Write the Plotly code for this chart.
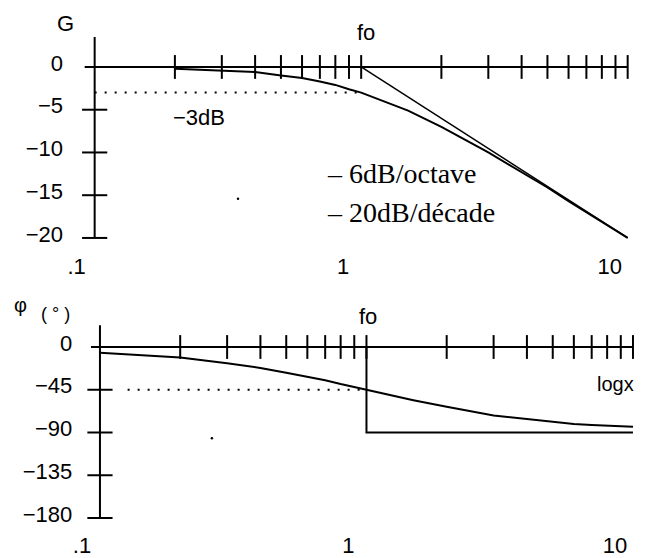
import plotly.graph_objects as go

# ---------------- data ----------------
freq_ticks = [0.2, 0.3, 0.4, 0.5, 0.6, 0.7, 0.8, 0.9, 1, 2, 3, 4, 5, 6, 7, 8, 9, 10]
x_label_vals = [0.1, 1, 10]
x_label_text = [".1", "1", "10"]

gain_ticks = [0, -5, -10, -15, -20]
gain_tick_text = ["0", "−5", "−10", "−15", "−20"]
phase_ticks = [0, -45, -90, -135, -180]
phase_tick_text = ["0", "−45", "−90", "−135", "−180"]

fo = 1.0
f_gain = [0.2, 0.3, 0.4, 0.5, 0.6, 0.7, 0.8, 0.9, 1, 1.5, 2, 3, 4, 5, 6, 7, 8, 9, 10]
gain_db = [-0.2, -0.4, -0.6, -1.0, -1.3, -1.7, -2.1, -2.6, -3.0, -5.1, -7.0, -10.0,
           -12.3, -14.1, -15.7, -17.0, -18.1, -19.1, -20.0]
gain_asym_f = [1, 10]
gain_asym_db = [0, -20]
minus3_f = [0.1, 1]
minus3_db = [-3, -3]
gain_stray_f = [0.345]
gain_stray_db = [-15.4]

f_phase = [0.1, 0.2, 0.3, 0.4, 0.5, 0.6, 0.7, 0.8, 0.9, 1, 1.5, 2, 3, 4, 5, 6, 7, 8, 10]
phase_deg = [-6, -11, -17, -22, -27, -31, -35, -39, -42, -45, -56, -63, -72, -76, -79,
             -81, -82, -83, -84]
phase_asym_f = [1, 1, 10]
phase_asym_deg = [0, -90, -90]
minus45_f = [0.127, 1]
minus45_deg = [-45, -45]
phase_stray_f = [0.263]
phase_stray_deg = [-96]

gain_axis_top = 3.5
phase_axis_top = 23

# ---------------- style ----------------
W, H = 646, 558
SANS = "Liberation Sans, Arial, sans-serif"
SERIF = "Liberation Serif, Times New Roman, serif"
BLACK = "black"
DEC = 266.5  # px per decade

def xstub(px):
    return 0.1 * 10 ** (-px / DEC)

fig = go.Figure()

def add_panel(xa, ya, xticks, yticks, ytop, ybottom, stub_px):
    # x axis (at y=0)
    fig.add_trace(go.Scatter(x=[xstub(stub_px), max(xticks)], y=[0, 0], mode="lines",
                             line=dict(color=BLACK, width=2), xaxis=xa, yaxis=ya,
                             cliponaxis=False, hoverinfo="skip"))
    # y axis (at x=0.1)
    fig.add_trace(go.Scatter(x=[0.1, 0.1], y=[ytop, ybottom], mode="lines",
                             line=dict(color=BLACK, width=2), xaxis=xa, yaxis=ya,
                             cliponaxis=False, hoverinfo="skip"))
    # crossing ticks on x axis
    fig.add_trace(go.Scatter(x=xticks, y=[0] * len(xticks), mode="markers",
                             marker=dict(symbol="line-ns", size=17,
                                         line=dict(color=BLACK, width=2)),
                             xaxis=xa, yaxis=ya, cliponaxis=False, hoverinfo="skip"))
    # crossing ticks on y axis
    yt = [v for v in yticks if v != 0]
    fig.add_trace(go.Scatter(x=[0.1] * len(yt), y=yt, mode="markers",
                             marker=dict(symbol="line-ew", size=18,
                                         line=dict(color=BLACK, width=2)),
                             xaxis=xa, yaxis=ya, cliponaxis=False, hoverinfo="skip"))

# ---- top panel ----
add_panel("x", "y", freq_ticks, gain_ticks, gain_axis_top, min(gain_ticks), 10)
fig.add_trace(go.Scatter(x=minus3_f, y=minus3_db, mode="lines",
                         line=dict(color=BLACK, width=2, dash="2px,8px"),
                         xaxis="x", yaxis="y", hoverinfo="skip"))
fig.add_trace(go.Scatter(x=gain_asym_f, y=gain_asym_db, mode="lines",
                         line=dict(color=BLACK, width=1.5), xaxis="x", yaxis="y",
                         cliponaxis=False))
fig.add_trace(go.Scatter(x=f_gain, y=gain_db, mode="lines",
                         line=dict(color=BLACK, width=2), xaxis="x", yaxis="y",
                         cliponaxis=False))
fig.add_trace(go.Scatter(x=gain_stray_f, y=gain_stray_db, mode="markers",
                         marker=dict(color=BLACK, size=2.5), xaxis="x", yaxis="y"))

# ---- bottom panel ----
add_panel("x2", "y2", freq_ticks, phase_ticks, phase_axis_top, min(phase_ticks), 9)
fig.add_trace(go.Scatter(x=minus45_f, y=minus45_deg, mode="lines",
                         line=dict(color=BLACK, width=2, dash="2px,8px"),
                         xaxis="x2", yaxis="y2", hoverinfo="skip"))
fig.add_trace(go.Scatter(x=phase_asym_f, y=phase_asym_deg, mode="lines",
                         line=dict(color=BLACK, width=2), xaxis="x2", yaxis="y2",
                         cliponaxis=False))
fig.add_trace(go.Scatter(x=f_phase, y=phase_deg, mode="lines",
                         line=dict(color=BLACK, width=2), xaxis="x2", yaxis="y2",
                         cliponaxis=False))
fig.add_trace(go.Scatter(x=phase_stray_f, y=phase_stray_deg, mode="markers",
                         marker=dict(color=BLACK, size=2.5), xaxis="x2", yaxis="y2"))

tickfont = dict(family=SANS, size=22, color=BLACK)

def xaxis_cfg(domain):
    return dict(type="log", range=[-1.04, 1.02], domain=domain, showgrid=False,
                zeroline=False, showline=False, ticks="", tickmode="array",
                tickvals=x_label_vals, ticktext=x_label_text, tickfont=tickfont,
                ticklabelshift=-18, ticklabelstandoff=4, automargin=False,
                fixedrange=True)

def yaxis_cfg(domain, rng, vals, text, standoff, anchor):
    return dict(range=rng, domain=domain, showgrid=False, zeroline=False,
                showline=False, ticks="", tickmode="array", tickvals=vals,
                ticktext=text, tickfont=tickfont, ticklabelstandoff=standoff,
                ticklabelshift=-4, anchor=anchor, automargin=False, fixedrange=True)

fig.update_layout(
    width=W, height=H,
    margin=dict(l=0, r=0, t=0, b=0, pad=0, autoexpand=False),
    paper_bgcolor="white", plot_bgcolor="white",
    showlegend=False,
    hovermode=False,
    xaxis=xaxis_cfg([84 / W, 633 / W]) | dict(anchor="y"),
    yaxis=yaxis_cfg([1 - 246.5 / H, 1 - 28.5 / H], [-21, 4.5], gain_ticks,
                    gain_tick_text, 20, "x"),
    xaxis2=xaxis_cfg([89.3 / W, 638.3 / W]) | dict(anchor="y2"),
    yaxis2=yaxis_cfg([1 - 525.6 / H, 1 - 320.4 / H], [-188, 28], phase_ticks,
                     phase_tick_text, 16, "x2"),
)

def ann(text, x, y, size=22, family=SANS, xanchor="center"):
    fig.add_annotation(text=text, x=x / W, y=1 - y / H, xref="paper", yref="paper",
                       showarrow=False, xanchor=xanchor, yanchor="middle",
                       font=dict(family=family, size=size, color=BLACK))

ann("G", 65, 24)
ann("fo", 366, 33)
ann("−3dB", 199, 117)
ann("– 6dB/octave", 325, 173, size=28, family=SERIF, xanchor="left")
ann("– 20dB/décade", 325, 212, size=28, family=SERIF, xanchor="left")
ann("φ", 20, 305, size=20)
ann("( ° )", 55, 314, size=18)
ann("fo", 368, 316)
ann("logx", 615, 384, size=20)

fig.write_html(
    "out.html",
    config={"displayModeBar": False, "staticPlot": True},
    post_script="document.body.style.margin='0';document.body.style.padding='0';"
                "document.body.style.overflow='hidden';",
)
